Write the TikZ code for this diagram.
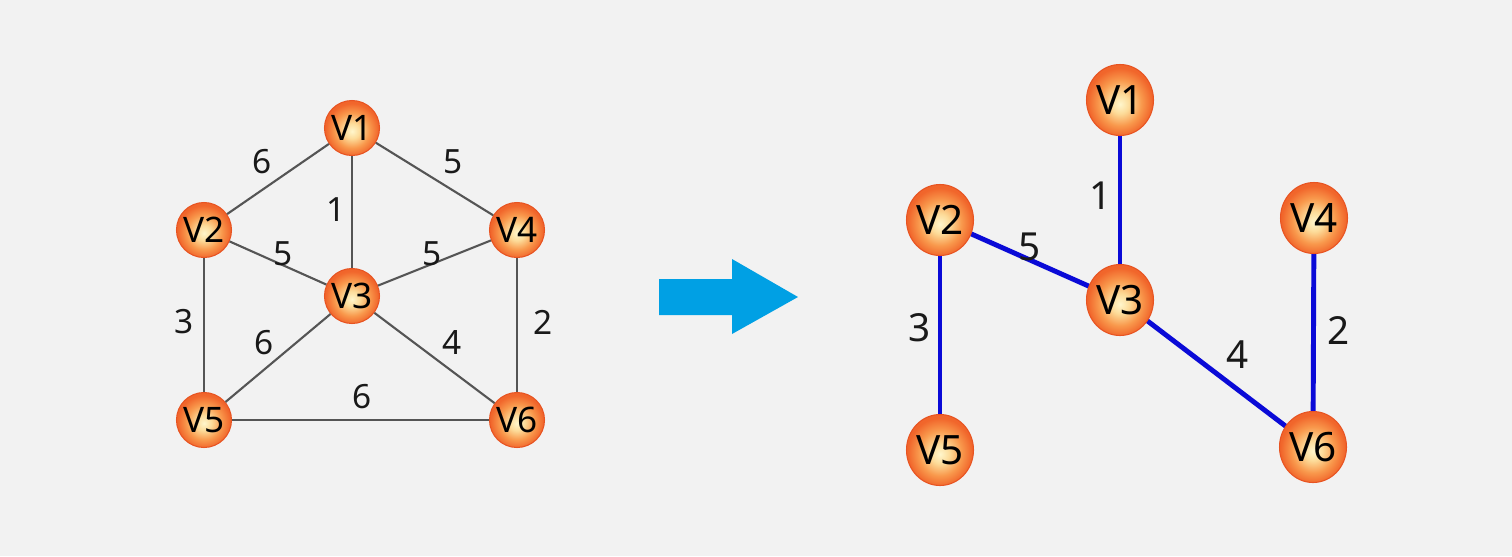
\documentclass[tikz,border=0pt]{standalone}
\usepackage{fontspec}
\setmainfont{Noto Sans}
\usetikzlibrary{shapes.geometric}

\definecolor{bgc}{RGB}{242,242,242}
\definecolor{edgegray}{RGB}{85,85,85}
\definecolor{treeblue}{RGB}{10,10,215}
\definecolor{arrowblue}{RGB}{0,160,228}
\definecolor{vborder}{RGB}{232,84,34}

\pgfdeclareradialshading{vball}{\pgfpoint{0bp}{-3bp}}{%
  rgb(0bp)=(1,0.965,0.8);
  rgb(7bp)=(0.99,0.86,0.6);
  rgb(16bp)=(0.975,0.6,0.3);
  rgb(24bp)=(0.945,0.4,0.17);
  rgb(50bp)=(0.92,0.33,0.13)}

\tikzset{
  vsmall/.style={circle, inner sep=0pt, minimum size=0.55cm, draw=vborder, line width=0.3pt,
    shading=vball, font=\fontsize{10}{12}\selectfont},
  vbig/.style={ellipse, inner sep=0pt, minimum width=0.64cm, minimum height=0.71cm, draw=vborder,
    line width=0.3pt, shading=vball, font=\fontsize{11.5}{13}\selectfont},
  wsmall/.style={font=\fontsize{9.5}{11}\selectfont, text=black!90},
  wbig/.style={font=\fontsize{11}{13}\selectfont, text=black!90},
  graphedge/.style={edgegray, line width=0.6pt},
  treeedge/.style={treeblue, line width=1.4pt}
}

\begin{document}
\begin{tikzpicture}

        \fill[bgc] (0,0) rectangle (15.12,5.56);
        \useasboundingbox (0,0) rectangle (15.12,5.56);

        % the full graph
        \node[vsmall] (a1) at (3.52,4.28) {V1};
        \node[vsmall] (a2) at (2.04,3.26) {V2};
        \node[vsmall] (a3) at (3.52,2.60) {V3};
        \node[vsmall] (a4) at (5.17,3.26) {V4};
        \node[vsmall] (a5) at (2.04,1.36) {V5};
        \node[vsmall] (a6) at (5.17,1.36) {V6};

        \draw[graphedge] (a1) -- (a2);
        \draw[graphedge] (a1) -- (a4);
        \draw[graphedge] (a1) -- (a3);
        \draw[graphedge] (a2) -- (a3);
        \draw[graphedge] (a4) -- (a3);
        \draw[graphedge] (a2) -- (a5);
        \draw[graphedge] (a4) -- (a6);
        \draw[graphedge] (a5) -- (a3);
        \draw[graphedge] (a6) -- (a3);
        \draw[graphedge] (a5) -- (a6);

        \node[wsmall] (w12) at (2.62,3.94) {6};
        \node[wsmall] (w14) at (4.53,3.94) {5};
        \node[wsmall] (w13) at (3.36,3.46) {1};
        \node[wsmall] (w23) at (2.83,3.02) {5};
        \node[wsmall] (w43) at (4.32,3.02) {5};
        \node[wsmall] (w25) at (1.84,2.34) {3};
        \node[wsmall] (w46) at (5.43,2.34) {2};
        \node[wsmall] (w53) at (2.64,2.13) {6};
        \node[wsmall] (w63) at (4.52,2.13) {4};
        \node[wsmall] (w56) at (3.62,1.59) {6};

        % arrow
        \fill[arrowblue] (6.59,2.77) -- (7.32,2.77) -- (7.32,2.97) -- (7.98,2.59)
          -- (7.32,2.22) -- (7.32,2.41) -- (6.59,2.41) -- cycle;

        % the spanning tree
        \coordinate (c1) at (11.20,4.56);
        \coordinate (c2) at (9.40,3.36);
        \coordinate (c3) at (11.20,2.56);
        \coordinate (c4) at (13.14,3.38);
        \coordinate (c5) at (9.40,1.06);
        \coordinate (c6) at (13.13,1.09);

        \draw[treeedge] (c1) -- (c3);
        \draw[treeedge] (c2) -- (c3);
        \draw[treeedge] (c2) -- (c5);
        \draw[treeedge] (c3) -- (c6);
        \draw[treeedge] (c4) -- (c6);

        \node[vbig] (b1) at (c1) {V1};
        \node[vbig] (b2) at (c2) {V2};
        \node[vbig] (b3) at (c3) {V3};
        \node[vbig] (b4) at (c4) {V4};
        \node[vbig] (b5) at (c5) {V5};
        \node[vbig] (b6) at (c6) {V6};

        \node[wbig] (t13) at (11.01,3.60) {1};
        \node[wbig] (t23) at (10.30,3.09) {5};
        \node[wbig] (t25) at (9.20,2.28) {3};
        \node[wbig] (t46) at (13.39,2.26) {2};
        \node[wbig] (t36) at (12.38,2.01) {4};

    \end{tikzpicture}
\end{document}
